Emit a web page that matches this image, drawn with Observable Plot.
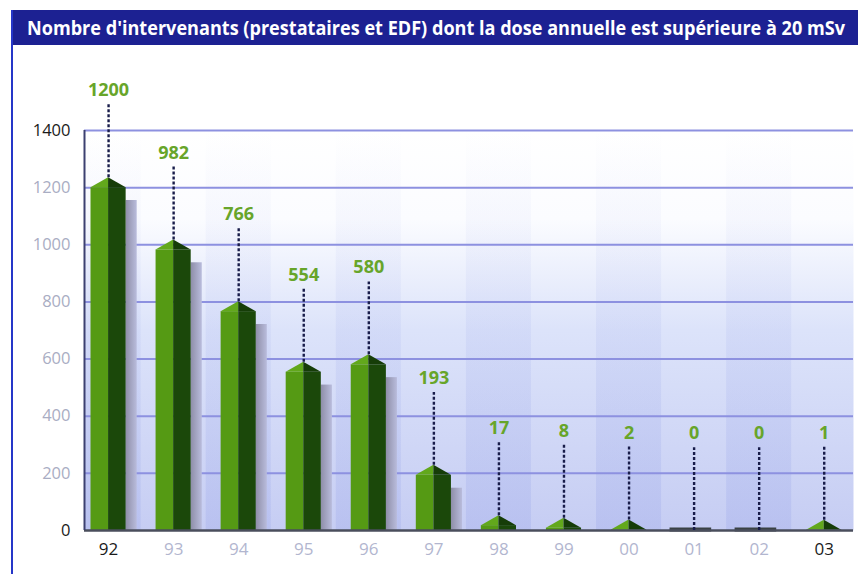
<!DOCTYPE html>
<html>
<head>
<meta charset="utf-8">
<script src="https://cdn.jsdelivr.net/npm/d3@7"></script>
<script src="https://cdn.jsdelivr.net/npm/@observablehq/plot@0.6"></script>
<style>
  html, body { margin: 0; padding: 0; background: #fff; }
  #wrap { position: relative; width: 863px; height: 574px; overflow: hidden; background: #fff; }
  #titlebar { position: absolute; left: 12px; top: 10px; width: 846px; height: 35px; background: #1c2192;
              display: flex; align-items: center; overflow: hidden; }
  #title { font-family: "Open Sans", "Liberation Sans", sans-serif; font-weight: 700; font-size: 20px; color: #fff;
           white-space: nowrap; display: inline-block; transform-origin: left center; margin-left: 15px; }
  #leftline { position: absolute; left: 11px; top: 10px; width: 2px; height: 564px; background: #2536c8; }
  #chart { position: absolute; left: 0; top: 45px; }
</style>
</head>
<body>
<div id="wrap">
  <div id="titlebar"><span id="title">Nombre d'intervenants (prestataires et EDF) dont la dose annuelle est supérieure à 20 mSv</span></div>
  <div id="leftline"></div>
  <div id="chart"></div>
</div>
<script>
const years = ["92","93","94","95","96","97","98","99","00","01","02","03"];
const values = [1200, 982, 766, 554, 580, 193, 17, 8, 2, 0, 0, 1];
const yTicks = [0, 200, 400, 600, 800, 1000, 1200, 1400];
const darkYTicks = [0, 1400];
const darkXYears = ["92", "03"];

// fit title
const t = document.getElementById("title");
const tw = t.getBoundingClientRect().width;
t.style.transform = `scaleX(${818 / tw})`;

const xDomain = [-0.37, 11.45];
const half = 0.27;
const roofH = v => (v > 0 ? 35 : 0);
const rows = values.map((v, i) => ({i, year: years[i], v}));
const zeros = rows.filter(d => d.v === 0);
const stripes = rows.filter(d => d.i % 2 === 0);
const shadows = rows.filter(d => d.v > 100);
const roofL = rows.filter(d => d.v > 0).flatMap(d => [
  {k: d.i, x: d.i - half, y1: d.v, y2: d.v},
  {k: d.i, x: d.i, y1: d.v, y2: d.v + roofH(d.v)}
]);
const roofR = rows.filter(d => d.v > 0).flatMap(d => [
  {k: d.i, x: d.i, y1: d.v, y2: d.v + roofH(d.v)},
  {k: d.i, x: d.i + half, y1: d.v, y2: d.v}
]);
const idx = y => years.indexOf(y);
const fmt = i => years[Math.round(i)];
const yfmt = v => String(v);

const plot = Plot.plot({
  width: 863,
  height: 529,
  marginLeft: 84,
  marginRight: 10,
  marginTop: 85,
  marginBottom: 44,
  style: {fontFamily: "'Open Sans', 'Liberation Sans', sans-serif", fontSize: "16px", background: "transparent"},
  x: {type: "linear", domain: xDomain, axis: null},
  y: {domain: [0, 1400], axis: null},
  marks: [
    Plot.frame({fill: "url(#bgGrad)", stroke: null}),
    Plot.rect(stripes, {
      x1: d => Math.max(d.i - 0.5, xDomain[0]), x2: d => d.i + 0.5,
      y1: 0, y2: 1400, fill: "url(#stripeGrad)"
    }),
    Plot.ruleY(yTicks.filter(t => t > 0), {stroke: "#8d91e0", strokeWidth: 2}),
    Plot.rect(shadows, {
      x1: d => d.i + half, x2: d => d.i + half + 0.17,
      y1: 0, y2: d => d.v - 45, fill: "url(#shadowGrad)"
    }),
    Plot.rect(rows.filter(d => d.v > 0), {x1: d => d.i - half, x2: d => d.i, y1: 0, y2: "v", fill: "#559a14"}),
    Plot.rect(rows.filter(d => d.v > 0), {x1: d => d.i, x2: d => d.i + half, y1: 0, y2: "v", fill: "#1b480a"}),
    Plot.areaY(roofL, {x: "x", y1: "y1", y2: "y2", z: "k", fill: "#62a81c", curve: "linear"}),
    Plot.areaY(roofR, {x: "x", y1: "y1", y2: "y2", z: "k", fill: "#163d08", curve: "linear"}),
    Plot.ruleY(zeros, {y: 0, x1: d => d.i - half - 0.1, x2: d => d.i + half, stroke: "#3a4244", strokeWidth: 4, dy: -1}),
    Plot.ruleY([0], {stroke: "#4a4e5c", strokeWidth: 2.5}),
    Plot.ruleX([xDomain[0]], {y1: 0, y2: 1400, stroke: "#3c4070", strokeWidth: 2}),
    Plot.ruleX(rows, {
      x: "i", y1: d => d.v + roofH(d.v), y2: d => d.v + 290,
      stroke: "#181c4a", strokeWidth: 2.4, strokeDasharray: "3,2"
    }),
    Plot.text(rows, {
      x: "i", y: d => d.v + 340, text: d => String(d.v),
      fill: "#67a52a", fontWeight: "bold", fontSize: 18
    }),
    Plot.axisY(darkYTicks, {tickSize: 0, tickPadding: 14, fill: "#1a1a1a", fontSize: 16.5, tickFormat: yfmt, label: null}),
    Plot.axisY(yTicks.filter(t => !darkYTicks.includes(t)), {tickSize: 0, tickPadding: 14, fill: "#a9adc3", fontSize: 16.5, tickFormat: yfmt, label: null}),
    Plot.axisX(darkXYears.map(idx), {tickSize: 0, tickPadding: 12, fill: "#1a1a1a", fontSize: 17, tickFormat: fmt, label: null}),
    Plot.axisX(years.filter(y => !darkXYears.includes(y)).map(idx), {tickSize: 0, tickPadding: 12, fill: "#b2b6cf", fontSize: 17, tickFormat: fmt, label: null})
  ]
});

const svg = d3.select(plot);
const defs = svg.insert("defs", ":first-child");
const bg = defs.append("linearGradient").attr("id", "bgGrad").attr("x1", 0).attr("y1", 0).attr("x2", 0).attr("y2", 1);
bg.append("stop").attr("offset", "0%").attr("stop-color", "#ffffff");
bg.append("stop").attr("offset", "22%").attr("stop-color", "#fbfcff");
bg.append("stop").attr("offset", "50%").attr("stop-color", "#dce3fa");
bg.append("stop").attr("offset", "100%").attr("stop-color", "#c6cdf3");
const st = defs.append("linearGradient").attr("id", "stripeGrad").attr("x1", 0).attr("y1", 0).attr("x2", 0).attr("y2", 1);
st.append("stop").attr("offset", "0%").attr("stop-color", "#9aa6ea").attr("stop-opacity", 0);
st.append("stop").attr("offset", "30%").attr("stop-color", "#9aa6ea").attr("stop-opacity", 0.08);
st.append("stop").attr("offset", "100%").attr("stop-color", "#9aa6ea").attr("stop-opacity", 0.3);
const sh = defs.append("linearGradient").attr("id", "shadowGrad").attr("x1", 0).attr("y1", 0).attr("x2", 1).attr("y2", 0);
sh.append("stop").attr("offset", "0%").attr("stop-color", "#8e8ea8");
sh.append("stop").attr("offset", "100%").attr("stop-color", "#b9bcdc");

document.getElementById("chart").appendChild(plot);
</script>
</body>
</html>
